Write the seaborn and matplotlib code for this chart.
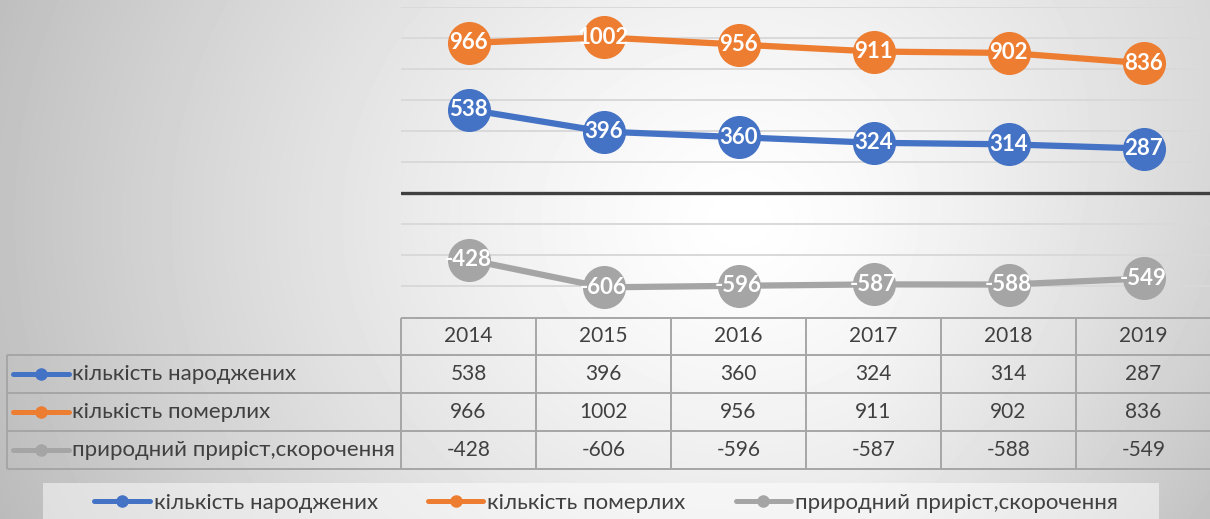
import matplotlib
matplotlib.use("Agg")
import matplotlib.pyplot as plt
from matplotlib.lines import Line2D
from matplotlib.patches import Rectangle
import numpy as np
import pandas as pd
import seaborn as sns

# data
years = ["2014", "2015", "2016", "2017", "2018", "2019"]
series_names = ["кількість народжених", "кількість померлих", "природний приріст,скорочення"]
births = [538, 396, 360, 324, 314, 287]
deaths = [966, 1002, 956, 911, 902, 836]
natural_change = [-428, -606, -596, -587, -588, -549]
series_colors = ["#4472C4", "#ED7D31", "#A5A5A5"]

W, H = 1210, 519
TEXT = "#404040"
GRID = "#d9d9d9"
BORDER = "#a6a6a6"
LABEL_FS = 16
NUM_FS = 15

sns.set_theme(style="white")
plt.rcParams["font.family"] = ["Lato", "DejaVu Sans"]


def fx(px):
    return px / W


def fy(py):
    return 1 - py / H


fig = plt.figure(figsize=(W / 100, H / 100), dpi=100)

# soft radial background like the office template
bg = fig.add_axes([0, 0, 1, 1])
xx, yy = np.meshgrid(np.arange(W), np.arange(H))
r = np.sqrt(((xx - 740) / 700) ** 2 + ((yy - 220) / 620) ** 2)
shade = 1 - 0.22 * np.clip(r, 0, 1.2) ** 1.3
shade -= 0.07 * np.clip((xx - 850) / 360, 0, 1) * (yy / H)
bg.imshow(shade, cmap="gray", vmin=0, vmax=1, aspect="auto", interpolation="bilinear")
bg.axis("off")

# line chart
long_df = pd.concat(
    [pd.DataFrame({"idx": np.arange(len(years)), "value": vals, "series": name})
     for name, vals in zip(series_names, [births, deaths, natural_change])],
    ignore_index=True,
)

ax = fig.add_axes([fx(401), fy(317.5), fx(811) - fx(1), fy(6.6) - fy(317.5)])
ax.patch.set_alpha(0)
ax.set_xlim(-0.5, len(years) - 0.5)
ax.set_ylim(-800, 1200)
for yv in range(-800, 1201, 200):
    if yv != 0:
        ax.axhline(yv, color=GRID, lw=1.4, zorder=0)
ax.axhline(0, color=TEXT, lw=2.4, zorder=1)

sns.lineplot(data=long_df, x="idx", y="value", hue="series", palette=series_colors,
             marker="o", markersize=31, markeredgewidth=0, linewidth=4.5,
             legend=False, ax=ax, zorder=3)

for name, vals in zip(series_names, [births, deaths, natural_change]):
    for i, v in enumerate(vals):
        ax.text(i, v, str(v), ha="center", va="center", color="white",
                fontsize=16, fontweight="bold", zorder=5)

ax.set_xticks([])
ax.set_yticks([])
ax.set_xlabel("")
ax.set_ylabel("")
for s in ax.spines.values():
    s.set_visible(False)

# data table under the chart
tab = fig.add_axes([0, 0, 1, 1])
tab.set_xlim(0, W)
tab.set_ylim(H, 0)
tab.axis("off")
tab.patch.set_alpha(0)

col_left = 401
col_w = 135
row_tops = [318, 355, 393, 431, 469]
n_cols = len(years)
col_edges = [col_left + col_w * i for i in range(n_cols + 1)]

tab.hlines(row_tops[0], col_left, col_edges[-1], color=BORDER, lw=1.4)
tab.hlines(row_tops[1:], 7, col_edges[-1], color=BORDER, lw=1.4)
tab.vlines(col_edges, row_tops[0], row_tops[-1], color=BORDER, lw=1.4)
tab.vlines(7, row_tops[1], row_tops[-1], color=BORDER, lw=1.4)

for j, yr in enumerate(years):
    tab.text(col_edges[j] + col_w / 2, (row_tops[0] + row_tops[1]) / 2, yr,
             ha="center", va="center", fontsize=NUM_FS, color=TEXT)

for k, (name, vals, c) in enumerate(zip(series_names, [births, deaths, natural_change], series_colors)):
    yc = (row_tops[k + 1] + row_tops[k + 2]) / 2
    tab.add_line(Line2D([13, 69], [yc, yc], color=c, lw=3.6))
    tab.plot([41], [yc], marker="o", color=c, markersize=8)
    tab.text(72, yc, name, ha="left", va="center", fontsize=LABEL_FS, color=TEXT)
    for j, v in enumerate(vals):
        tab.text(col_edges[j] + col_w / 2, yc, str(v), ha="center", va="center",
                 fontsize=NUM_FS, color=TEXT)

# bottom legend
fig.patches.append(Rectangle((fx(43), 0), fx(1159) - fx(43), fy(483), transform=fig.transFigure,
                             facecolor="white", alpha=0.5, edgecolor="none", zorder=0))
handles = [Line2D([], [], color=c, lw=3.6, marker="o", markersize=8) for c in series_colors]
fig.legend(handles, series_names, loc="center", bbox_to_anchor=(fx(606), fy(503)), ncol=3,
           frameon=False, fontsize=LABEL_FS, handlelength=2.5, handletextpad=0.18,
           columnspacing=2.25, labelcolor=TEXT)

fig.savefig("out.png", dpi=100)
